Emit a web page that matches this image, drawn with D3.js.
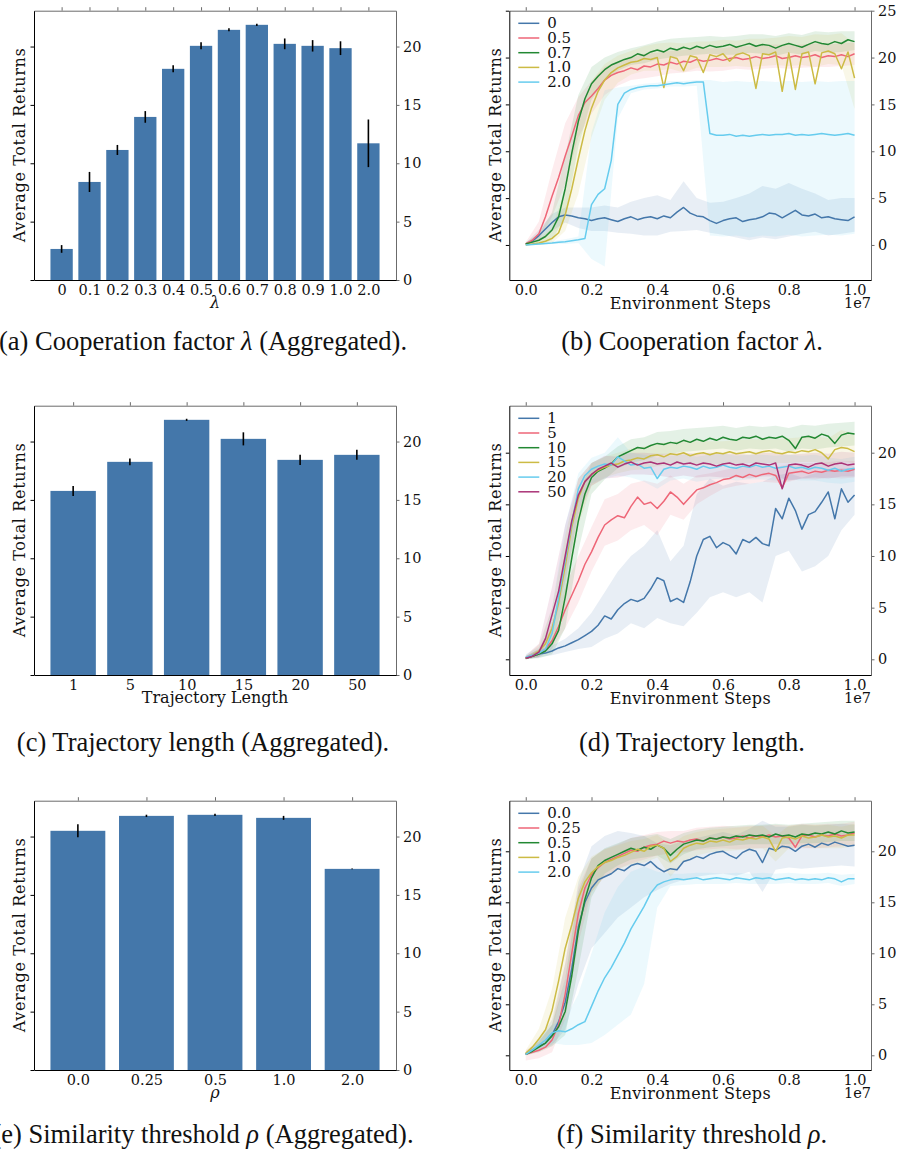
<!DOCTYPE html>
<html>
<head>
<meta charset="utf-8">
<script src="https://d3js.org/d3.v7.min.js"></script>
<style>
  body { margin: 0; background: #fff; }
</style>
</head>
<body>
<div id="fig"></div>
<script>
// ---------- bar panels ----------
const lambdaCats  = ["0","0.1","0.2","0.3","0.4","0.5","0.6","0.7","0.8","0.9","1.0","2.0"];
const lambdaMeans = [2.66,8.4,11.14,13.97,18.09,20.06,21.43,21.86,20.23,20.06,19.86,11.71];
const lambdaErrs  = [0.33,0.86,0.43,0.5,0.3,0.3,0.13,0.09,0.46,0.49,0.59,2.04];

const trajCats  = ["1","5","10","15","20","50"];
const trajMeans = [15.77,18.26,21.86,20.23,18.43,18.86];
const trajErrs  = [0.43,0.29,0.09,0.56,0.43,0.43];

const rhoCats  = ["0.0","0.25","0.5","1.0","2.0"];
const rhoMeans = [20.49,21.77,21.86,21.6,17.23];
const rhoErrs  = [0.56,0.1,0.1,0.17,0.03];

// ---------- curves (x in units of 1e7 steps) ----------
const steps = [0,0.02,0.04,0.06,0.08,0.1,0.12,0.14,0.16,0.18,0.2,0.22,0.24,0.26,0.28,0.3,0.32,0.34,0.36,0.38,0.4,0.42,0.44,0.46,0.48,0.5,0.52,0.54,0.56,0.58,0.6,0.62,0.64,0.66,0.68,0.7,0.72,0.74,0.76,0.78,0.8,0.82,0.84,0.86,0.88,0.9,0.92,0.94,0.96,0.98,1.0];
const bandSteps = [0,0.04,0.08,0.12,0.16,0.2,0.24,0.28,0.32,0.36,0.4,0.44,0.48,0.52,0.56,0.6,0.64,0.68,0.72,0.76,0.8,0.84,0.88,0.92,0.96,1.0];

const stepTicks = [0,0.2,0.4,0.6,0.8,1.0];

// (b) cooperation factor
const lamNames = ["0","0.5","0.7","1.0","2.0"];
const lam0 = [0.1,0.4,1.0,1.7,2.4,3.0,3.2,3.1,2.9,2.8,2.6,2.8,2.9,2.7,2.5,2.8,3.0,2.7,2.9,3.0,2.8,3.1,2.9,3.5,4.0,3.4,3.1,3.0,2.6,2.3,2.6,2.8,2.9,2.5,2.7,2.8,3.0,3.4,3.3,2.9,3.3,3.7,3.2,3.1,3.3,2.9,3.0,2.8,2.7,2.6,3.0];
const lam0Lo = [0.0,0.5,1.5,2.4,1.8,1.5,1.5,1.3,1.2,1.0,1.0,1.4,1.5,1.6,1.3,1.1,0.8,0.5,0.8,0.6,0.9,1.2,1.4,1.0,1.2,1.4];
const lam0Hi = [0.2,1.6,3.3,4.0,4.0,4.0,4.2,4.0,4.6,5.0,5.3,4.8,6.8,5.0,4.5,4.6,5.0,5.5,6.3,6.0,6.6,6.0,5.5,4.8,5.0,5.0];
const lam1 = [0.1,0.5,1.2,3.0,5.2,7.2,9.5,11.6,13.8,15.2,15.9,16.7,17.6,18.1,18.4,18.6,18.9,18.7,19.1,19.0,19.3,19.2,19.5,19.3,19.6,19.5,19.8,19.6,19.7,19.9,19.7,19.9,20.0,19.8,19.9,20.1,19.9,20.0,20.2,19.9,20.0,20.2,20.0,20.1,20.3,20.0,20.2,20.1,20.3,20.1,20.4];
const lam1Lo = [0,0.5,3.0,6.5,11.5,14.0,16.0,17.0,17.6,17.8,18.0,18.3,18.4,18.6,18.5,18.6,18.8,18.7,18.8,18.9,18.8,18.9,19.0,19.0,19.1,19.2];
const lam1Hi = [0.3,2.5,8.0,13.0,15.8,17.5,19.0,19.6,20.0,20.4,20.5,20.7,20.8,21.0,21.0,21.0,21.2,21.2,21.3,21.4,21.3,21.4,21.5,21.4,21.5,21.6];
const lam2 = [0.1,0.3,0.5,0.9,1.6,3.0,6.0,9.8,13.2,15.6,17.2,18.0,18.7,19.2,19.5,19.8,20.0,20.4,20.2,20.6,20.8,20.6,21.0,20.8,21.1,20.9,21.2,21.0,21.3,21.1,21.2,21.4,21.1,21.3,21.5,21.2,21.4,21.3,21.0,21.3,21.5,21.3,21.1,21.4,21.7,21.5,21.4,21.7,21.5,21.9,21.7];
const lam2Lo = [0,0.1,0.5,3.0,10.5,15.5,17.5,18.6,19.2,19.4,19.8,20.0,20.2,20.3,20.4,20.3,20.3,20.5,20.4,20.2,20.5,20.3,20.7,20.5,20.6,20.8];
const lam2Hi = [0.3,1.2,3.5,9.5,16.0,19.0,20.0,20.6,21.0,21.3,21.7,22.0,22.1,22.2,22.3,22.2,22.3,22.5,22.5,22.3,22.6,22.4,22.8,22.7,22.8,22.8];
const lam3 = [0.0,0.1,0.2,0.4,0.7,1.3,3.2,6.0,9.2,12.2,14.6,16.4,17.6,18.4,18.9,19.2,19.5,19.6,19.9,19.8,20.0,16.8,20.1,19.9,18.6,20.2,20.0,18.4,20.3,20.1,20.4,19.6,20.3,20.5,20.2,16.7,20.4,20.3,20.6,16.4,20.5,16.6,20.4,20.6,17.2,20.5,20.7,20.4,18.8,20.6,17.8];
const lam3Lo = [0,0,0.2,1.5,5.5,11.5,15.5,17.3,18.2,18.6,18.6,18.8,18.4,18.9,19.0,19.0,19.1,19.0,19.1,19.2,19.1,19.2,19.0,19.3,19.2,14.5];
const lam3Hi = [0.2,0.6,1.8,6.0,13.0,17.5,19.3,20.2,20.7,21.2,21.5,21.6,21.5,21.7,21.7,21.9,21.8,22.0,22.0,22.1,22.3,22.2,22.5,22.4,22.6,21.5];
const lam4 = [0.0,0.05,0.1,0.15,0.2,0.3,0.35,0.45,0.55,0.7,4.3,5.4,6.0,9.0,15.0,16.2,16.6,16.8,16.9,17.0,17.0,17.1,17.2,17.3,17.2,17.3,17.4,17.4,11.9,11.7,11.7,11.8,11.6,11.7,11.6,11.7,11.8,11.7,11.8,11.8,11.9,11.7,11.8,11.7,11.8,11.9,11.8,11.7,11.8,11.9,11.7];
const lam4Lo = [0,0,0.1,0.1,0.2,-1.5,-2.3,13.5,16.2,16.6,16.7,16.9,16.9,17.0,1.0,0.9,1.0,0.8,1.0,0.9,1.1,0.9,1.0,1.1,1.0,1.2];
const lam4Hi = [0.1,0.2,0.4,0.6,0.9,12.0,16.5,16.8,17.0,17.2,17.3,17.5,17.5,17.6,17.6,17.4,17.5,17.4,17.5,17.4,17.5,17.4,17.5,17.4,17.5,17.5];

// (d) trajectory length
const trajNames = ["1","5","10","15","20","50"];
const traj0 = [0.1,0.3,0.5,0.6,0.8,1.1,1.3,1.6,1.9,2.3,2.7,3.3,4.2,3.9,4.8,5.4,5.8,5.6,5.9,6.8,7.9,7.6,5.6,5.9,5.5,7.5,10.0,11.6,11.9,10.8,11.3,11.0,10.2,11.6,11.3,11.8,11.2,11.0,14.6,13.6,15.6,14.4,12.6,14.0,14.3,15.2,16.2,13.6,16.5,15.2,15.9];
const traj0Lo = [0,0.2,0.4,0.7,1.0,1.2,2.0,2.5,3.5,3.0,4.0,3.5,3.2,4.5,6.0,6.5,6.0,6.5,5.5,10.0,10.5,8.5,9.0,10.0,12.5,14.0];
const traj0Hi = [0.3,0.9,1.3,2.0,3.0,4.5,6.5,8.5,10.0,11.0,12.5,9.5,11.0,16.0,17.5,16.8,17.2,17.0,17.2,17.8,18.0,17.6,18.0,18.3,18.5,18.5];
const traj1 = [0.1,0.3,0.5,1.0,1.8,3.2,4.8,6.2,7.6,9.2,10.4,11.8,13.0,13.5,13.9,13.7,14.8,15.7,15.0,15.2,14.6,15.3,16.2,15.7,15.0,15.7,16.4,16.6,16.9,17.1,17.4,17.5,17.8,17.6,17.9,17.7,17.9,18.0,17.8,16.6,18.0,18.1,18.2,18.0,18.2,18.1,18.3,18.2,18.3,18.2,18.4];
const traj1Lo = [0,0.2,1.0,3.0,5.5,8.5,11.0,11.5,12.5,13.0,12.0,14.0,13.5,15.0,15.8,16.5,16.8,17.0,17.2,17.1,17.2,17.5,17.4,17.6,17.5,17.6];
const traj1Hi = [0.3,1.0,3.5,7.0,10.0,12.8,15.5,16.0,17.0,17.3,17.0,17.8,17.0,17.8,18.0,18.3,18.6,18.7,18.7,18.6,18.9,19.0,19.0,19.1,19.2,19.2];
const traj2 = [0.1,0.3,0.5,0.8,1.5,2.8,6.0,9.8,13.4,16.0,17.6,18.2,18.5,18.9,19.6,19.9,20.2,20.5,20.4,20.7,20.9,20.8,21.0,20.9,21.2,21.0,21.3,21.1,21.4,21.2,21.5,21.3,21.2,21.5,21.4,21.6,21.3,21.5,21.4,21.6,21.2,20.4,21.5,21.6,21.4,21.8,21.6,20.9,21.7,21.9,21.8];
const traj2Lo = [0,0.1,0.5,3.0,10.5,16.0,17.4,18.5,19.0,19.3,19.7,19.9,20.1,20.2,20.3,20.4,20.2,20.4,20.3,20.4,20.1,20.4,20.3,20.5,20.6,20.7];
const traj2Hi = [0.3,1.0,3.0,9.0,16.0,19.0,19.6,20.6,21.3,21.5,22.0,22.1,22.3,22.4,22.5,22.6,22.4,22.6,22.5,22.6,22.4,22.7,22.6,22.8,22.9,23.0];
const traj3 = [0.1,0.4,0.8,1.5,3.0,5.5,9.0,12.8,15.6,17.2,17.9,18.3,18.6,18.8,18.9,19.2,19.3,19.5,19.4,19.7,19.8,19.6,19.9,19.8,20.0,19.7,19.9,20.0,19.8,20.0,19.9,20.1,19.9,20.0,20.1,19.9,20.1,20.2,20.0,19.9,20.1,20.0,20.2,20.1,20.3,20.0,19.4,20.3,20.5,20.4,20.1];
const traj3Lo = [0,0.3,1.5,6.0,13.0,16.8,17.6,18.0,18.3,18.4,18.7,18.8,18.9,18.8,18.8,18.9,18.9,19.0,19.0,19.0,19.0,19.1,19.1,18.6,19.2,19.0];
const traj3Hi = [0.3,1.4,5.0,12.0,17.5,19.0,19.6,20.0,20.4,20.6,20.9,21.0,21.2,21.1,21.1,21.1,21.2,21.3,21.3,21.3,21.4,21.5,21.6,21.4,22.2,21.8];
const traj4 = [0.2,0.4,0.6,1.0,2.5,6.0,9.6,13.2,16.5,17.8,18.4,18.7,18.9,18.8,19.6,19.2,18.8,18.9,18.5,18.6,17.5,18.4,18.6,18.5,18.7,18.6,18.4,18.7,18.5,18.6,18.8,18.6,18.5,18.7,18.6,18.8,18.6,18.7,18.5,18.6,18.7,18.5,18.6,18.4,18.6,18.5,18.3,18.5,18.2,18.4,18.5];
const traj4Lo = [0,0.2,1.0,6.5,14.5,17.0,17.5,17.8,17.6,17.2,16.5,17.3,17.5,17.2,17.4,17.5,17.3,17.4,17.4,17.3,17.4,17.3,17.3,17.1,17.0,17.2];
const traj4Hi = [0.5,1.2,5.0,13.0,18.0,19.5,20.0,21.5,20.0,19.8,19.5,19.7,19.8,19.6,19.8,19.9,19.7,19.8,19.8,19.7,19.8,19.7,19.8,19.5,19.4,19.6];
const traj5 = [0.1,0.3,0.7,2.0,4.3,6.6,10.0,13.4,15.9,17.2,17.9,18.4,18.7,19.0,18.6,18.9,19.1,18.8,19.0,19.1,18.9,19.0,18.8,19.1,18.9,19.0,18.8,19.0,18.9,18.7,18.9,19.0,18.8,18.9,18.7,19.0,18.9,18.8,19.0,16.5,18.8,18.9,18.8,18.6,18.9,19.0,18.7,18.9,19.0,18.8,18.9];
const traj5Lo = [0,0.2,2.5,7.5,14.0,16.8,17.5,17.6,17.9,17.9,17.8,17.6,17.8,17.6,17.7,17.6,17.6,17.5,17.7,17.7,17.3,17.5,17.6,17.5,17.7,17.7];
const traj5Hi = [0.4,1.5,7.0,13.0,17.5,19.0,19.7,19.6,20.0,20.0,19.9,19.9,20.0,19.9,20.0,19.9,19.9,19.8,20.0,20.0,19.8,19.9,20.0,19.9,20.1,20.0];

// (f) similarity threshold
const rhoNames = ["0.0","0.25","0.5","1.0","2.0"];
const rho0 = [0.1,0.5,0.9,1.2,2.0,3.3,5.2,8.5,12.6,15.0,16.4,17.2,17.5,17.8,18.3,18.1,18.6,18.8,18.6,19.0,18.4,18.0,18.3,18.2,19.0,19.2,19.5,19.3,19.7,19.9,20.0,19.6,19.3,19.9,20.2,20.0,18.9,20.3,20.1,20.5,20.4,20.0,20.5,20.7,20.4,20.8,20.6,20.9,20.7,20.5,20.6];
const rho0Lo = [0,0.4,1.0,2.5,7.0,10.5,12.0,13.5,14.5,15.5,16.2,16.8,17.2,17.5,17.7,17.8,17.6,18.0,16.0,18.2,18.4,18.3,18.4,18.5,18.6,18.5];
const rho0Hi = [0.3,1.5,3.5,9.0,17.0,20.5,21.5,22.0,21.8,21.5,20.8,20.6,21.0,21.3,21.6,21.9,21.6,22.2,23.0,22.4,22.4,22.6,22.5,22.6,22.7,22.6];
const rho1 = [0.1,0.3,0.5,0.8,1.5,3.0,6.0,10.0,13.9,16.4,17.7,18.4,18.9,19.2,19.5,19.8,20.1,20.0,20.4,20.6,20.7,21.0,20.8,21.0,20.9,21.1,21.2,21.0,21.3,21.2,21.4,21.2,21.3,21.5,21.3,21.5,21.4,21.6,21.4,21.5,21.3,20.4,21.5,21.6,21.4,21.6,21.5,21.7,21.5,21.6,21.8];
const rho1Lo = [-0.5,-0.3,0.3,3.5,11.0,16.0,17.5,18.3,18.8,19.2,19.6,19.8,19.9,20.1,20.2,20.3,20.2,20.3,20.3,20.4,20.2,20.3,20.3,20.4,20.5,20.6];
const rho1Hi = [0.5,1.3,3.0,9.0,16.5,19.3,20.2,20.7,21.3,21.6,21.9,22.0,22.0,22.3,22.4,22.5,22.4,22.5,22.5,22.6,22.5,22.7,22.6,22.7,22.7,22.9];
const rho2 = [0.1,0.4,0.8,1.2,1.9,2.8,4.3,7.8,12.2,15.3,17.4,18.6,19.1,19.4,19.7,20.0,20.3,20.1,20.4,20.2,20.6,20.3,19.6,20.2,20.7,20.9,21.1,21.0,21.3,21.2,21.4,21.3,21.5,21.4,21.6,21.5,21.6,21.4,21.7,21.5,21.6,21.4,21.7,21.6,21.8,21.7,21.9,21.7,22.0,21.8,21.9];
const rho2Lo = [0,0.3,0.9,2.0,8.5,15.5,17.8,18.6,19.2,19.4,19.6,18.8,19.7,20.2,20.4,20.5,20.6,20.7,20.7,20.7,20.7,20.8,20.8,20.9,21.0,21.0];
const rho2Hi = [0.3,1.4,3.0,7.5,16.0,19.3,20.3,20.8,21.3,21.5,21.7,21.2,21.8,22.1,22.3,22.4,22.5,22.6,22.6,22.7,22.6,22.7,22.8,22.9,23.0,23.0];
const rho3 = [0.2,0.8,1.6,2.5,4.4,7.3,10.5,12.8,15.4,17.0,17.9,18.5,18.9,19.1,19.4,19.6,19.9,20.2,20.0,20.5,20.6,20.3,19.0,19.5,20.3,20.6,20.8,20.7,21.0,20.9,21.1,20.9,21.2,21.1,21.3,21.2,21.4,21.2,20.0,21.3,21.4,21.2,21.5,21.3,21.4,21.6,21.4,21.5,21.3,21.6,21.6];
const rho3Lo = [0,0.8,2.5,7.5,12.5,16.0,17.5,18.2,18.7,18.9,19.4,17.5,19.0,19.6,19.9,20.0,20.1,20.2,20.3,19.0,20.3,20.4,20.3,20.3,20.3,20.5];
const rho3Hi = [0.5,2.6,6.5,13.5,17.5,19.5,20.2,20.6,21.0,21.2,21.6,20.6,21.5,21.9,22.1,22.2,22.3,22.4,22.5,21.5,22.5,22.6,22.6,22.6,22.4,22.7];
const rho4 = [0.1,0.5,1.0,1.5,2.2,2.4,2.3,2.6,3.0,3.3,4.8,6.3,7.6,8.6,9.8,11.0,12.4,13.5,14.6,15.9,16.7,17.0,17.2,17.3,17.2,17.3,17.4,17.2,17.3,17.4,17.3,17.2,17.4,17.3,17.2,17.4,17.3,17.4,17.2,17.3,17.4,17.2,17.3,17.2,17.3,17.2,17.4,17.3,17.0,17.3,17.3];
const rho4Lo = [0,0.5,1.2,1.0,1.0,1.2,2.0,3.0,4.0,7.0,14.5,16.6,16.7,16.8,16.8,16.8,16.9,16.8,16.8,16.8,16.9,16.8,16.8,16.9,16.6,16.8];
const rho4Hi = [0.3,1.5,3.0,3.5,6.0,10.0,14.0,16.5,18.0,18.5,18.0,17.8,17.8,17.9,17.9,17.8,17.9,17.8,17.9,17.8,17.9,17.8,17.8,17.9,17.7,17.8];

const palette = ["#4477AA","#EE6677","#228833","#CCBB44","#66CCEE","#AA3377"];
const barColor = "#4477AA";

// ---------- layout ----------
const FONT = '"DejaVu Serif", serif';
const CAPFONT = '"Liberation Serif", "Times New Roman", serif';
const TICK = 14.5;
const cols = [{x0: 34, x1: 396, ylab: 19.3, cap: 203}, {x0: 509.3, x1: 871, ylab: 495, cap: 692}];
const rows = [{y0: 10.7, y1: 280, cap: 350}, {y0: 405.7, y1: 675, cap: 751}, {y0: 800.7, y1: 1070, cap: 1143}];

const svg = d3.select("#fig").append("svg")
  .attr("width", 899).attr("height", 1150)
  .style("font-family", FONT);

function styleAxis(a, color) {
  a.attr("font-family", null).attr("font-size", TICK).style("font-family", FONT);
  a.selectAll(".domain, .tick line").attr("stroke", color).attr("stroke-width", 1);
  a.selectAll("text").attr("fill", "#111");
}

function frame(g, x, y, xTicks, yTicks, col, row, xFmt) {
  g.append("g").attr("transform", `translate(${col.x1},0)`)
    .call(d3.axisRight(y).tickValues(yTicks).tickSize(3.5).tickPadding(3.5).tickSizeOuter(0))
    .call(a => styleAxis(a, "#6b6b6b"));
  g.append("g").attr("transform", `translate(0,${row.y0})`)
    .call(d3.axisTop(x).tickValues(xTicks).tickFormat("").tickSize(3.5).tickSizeOuter(0))
    .call(a => styleAxis(a, "#6b6b6b"));
  g.append("g").attr("transform", `translate(${col.x0},0)`)
    .call(d3.axisLeft(y).tickValues(yTicks).tickFormat("").tickSize(3.5).tickSizeOuter(0))
    .call(a => styleAxis(a, "#000"));
  g.append("g").attr("transform", `translate(0,${row.y1})`)
    .call(d3.axisBottom(x).tickValues(xTicks).tickFormat(xFmt).tickSize(0).tickPadding(5.2).tickSizeOuter(0))
    .call(a => styleAxis(a, "#000"));
}

function yLabel(g, col, row) {
  g.append("text")
    .attr("transform", `translate(${col.ylab},${(row.y0 + row.y1) / 2}) rotate(-90)`)
    .attr("text-anchor", "middle").attr("dominant-baseline", "central")
    .attr("font-size", 16).attr("fill", "#111")
    .attr("textLength", 194).attr("lengthAdjust", "spacing")
    .text("Average Total Returns");
}

function caption(col, row, parts) {
  const t = svg.append("text")
    .attr("x", col.cap).attr("y", row.cap)
    .attr("text-anchor", "middle")
    .style("font-family", CAPFONT).attr("font-size", 26.5).attr("fill", "#111");
  parts.forEach(p => t.append("tspan").attr("font-style", p[1] ? "italic" : null).text(p[0]));
}

function barPanel(col, row, cats, means, errs, xlab, xlabItalic) {
  const g = svg.append("g");
  const n = cats.length, m = 0.05 * (n - 0.2);
  const idx = d3.range(n);
  const x = d3.scaleLinear().domain([-0.4 - m, n - 0.6 + m]).range([col.x0, col.x1]);
  const y = d3.scaleLinear().domain([0, 23.07]).range([row.y1, row.y0]);

  g.selectAll("rect").data(idx).join("rect")
    .attr("x", i => x(i - 0.4))
    .attr("width", i => x(i + 0.4) - x(i - 0.4))
    .attr("y", i => y(means[i]))
    .attr("height", i => y(0) - y(means[i]))
    .attr("fill", barColor);

  g.selectAll("line.err").data(idx).join("line")
    .attr("class", "err")
    .attr("x1", i => x(i)).attr("x2", i => x(i))
    .attr("y1", i => y(means[i] - errs[i]))
    .attr("y2", i => y(means[i] + errs[i]))
    .attr("stroke", "#000").attr("stroke-width", 1.6);

  frame(g, x, y, idx, [0,5,10,15,20], col, row, i => cats[i]);
  g.append("text")
    .attr("x", (col.x0 + col.x1) / 2).attr("y", row.y1 + 28)
    .attr("text-anchor", "middle").attr("font-size", 16).attr("fill", "#111")
    .attr("font-style", xlabItalic ? "italic" : null)
    .text(xlab);
  yLabel(g, col, row);
}

function linePanel(col, row, ydom, yTicks, names, means, los, his, clipId) {
  const g = svg.append("g");
  const x = d3.scaleLinear().domain([-0.05, 1.05]).range([col.x0, col.x1]);
  const y = d3.scaleLinear().domain(ydom).range([row.y1, row.y0]);

  svg.append("clipPath").attr("id", clipId).append("rect")
    .attr("x", col.x0).attr("y", row.y0)
    .attr("width", col.x1 - col.x0).attr("height", row.y1 - row.y0);
  const plot = g.append("g").attr("clip-path", `url(#${clipId})`);

  const area = (lo, hi) => d3.area()
    .x((d, i) => x(bandSteps[i]))
    .y0((d, i) => y(lo[i]))
    .y1((d, i) => y(hi[i]))(lo);
  const line = d3.line().x((d, i) => x(steps[i])).y(d => y(d));

  names.forEach((nm, k) => {
    plot.append("path").attr("d", area(los[k], his[k]))
      .attr("fill", palette[k]).attr("fill-opacity", 0.12).attr("stroke", "none");
  });
  names.forEach((nm, k) => {
    plot.append("path").attr("d", line(means[k]))
      .attr("fill", "none").attr("stroke", palette[k])
      .attr("stroke-width", 1.5).attr("stroke-linejoin", "round");
  });

  frame(g, x, y, stepTicks, yTicks, col, row, d3.format(".1f"));

  // legend
  names.forEach((nm, k) => {
    const ly = row.y0 + 12.6 + k * 14.7;
    g.append("line")
      .attr("x1", col.x0 + 9).attr("x2", col.x0 + 30)
      .attr("y1", ly).attr("y2", ly)
      .attr("stroke", palette[k]).attr("stroke-width", 1.5);
    g.append("text")
      .attr("x", col.x0 + 38).attr("y", ly)
      .attr("dominant-baseline", "central")
      .attr("font-size", 15).attr("fill", "#111")
      .text(nm);
  });

  g.append("text")
    .attr("x", (col.x0 + col.x1) / 2).attr("y", row.y1 + 28.5)
    .attr("text-anchor", "middle").attr("font-size", 16).attr("fill", "#111")
    .attr("textLength", 161).attr("lengthAdjust", "spacing")
    .text("Environment Steps");
  g.append("text")
    .attr("x", col.x1).attr("y", row.y1 + 28)
    .attr("text-anchor", "end").attr("font-size", TICK).attr("fill", "#111")
    .text("1e7");
  yLabel(g, col, row);
}

// ---------- draw ----------
barPanel(cols[0], rows[0], lambdaCats, lambdaMeans, lambdaErrs, "λ", true);
linePanel(cols[1], rows[0], [-3.74, 25.0], [0,5,10,15,20,25], lamNames,
  [lam0, lam1, lam2, lam3, lam4],
  [lam0Lo, lam1Lo, lam2Lo, lam3Lo, lam4Lo],
  [lam0Hi, lam1Hi, lam2Hi, lam3Hi, lam4Hi], "clipB");

barPanel(cols[0], rows[1], trajCats, trajMeans, trajErrs, "Trajectory Length", false);
linePanel(cols[1], rows[1], [-1.52, 24.55], [0,5,10,15,20], trajNames,
  [traj0, traj1, traj2, traj3, traj4, traj5],
  [traj0Lo, traj1Lo, traj2Lo, traj3Lo, traj4Lo, traj5Lo],
  [traj0Hi, traj1Hi, traj2Hi, traj3Hi, traj4Hi, traj5Hi], "clipD");

barPanel(cols[0], rows[2], rhoCats, rhoMeans, rhoErrs, "ρ", true);
linePanel(cols[1], rows[2], [-1.44, 24.96], [0,5,10,15,20], rhoNames,
  [rho0, rho1, rho2, rho3, rho4],
  [rho0Lo, rho1Lo, rho2Lo, rho3Lo, rho4Lo],
  [rho0Hi, rho1Hi, rho2Hi, rho3Hi, rho4Hi], "clipF");

caption(cols[0], rows[0], [["(a) Cooperation factor "], ["λ", true], [" (Aggregated)."]]);
caption(cols[1], rows[0], [["(b) Cooperation factor "], ["λ", true], ["."]]);
caption(cols[0], rows[1], [["(c) Trajectory length (Aggregated)."]]);
caption(cols[1], rows[1], [["(d) Trajectory length."]]);
caption(cols[0], rows[2], [["(e) Similarity threshold "], ["ρ", true], [" (Aggregated)."]]);
caption(cols[1], rows[2], [["(f) Similarity threshold "], ["ρ", true], ["."]]);
</script>
</body>
</html>
